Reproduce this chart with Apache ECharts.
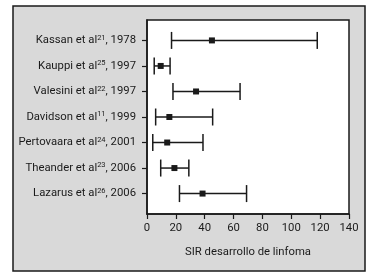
<!DOCTYPE html>
<html lang="es" style="height: 100%">
<head>
  <meta charset="utf-8">
</head>
<body style="height: 100%; margin: 0; background: #fff">
  <div id="container" style="width: 386px; height: 278px"></div>

  <script type="text/javascript" src="https://cdn.jsdelivr.net/npm/echarts@6/dist/echarts.min.js"></script>
  <script type="text/javascript">
var authors = ['Kassan et al', 'Kauppi et al', 'Valesini et al', 'Davidson et al', 'Pertovaara et al', 'Theander et al', 'Lazarus et al'];
var refs = ['21', '25', '22', '11', '24', '23', '26'];
var years = ['1978', '1997', '1997', '1999', '2001', '2006', '2006'];
// SIR estimate and confidence interval
var sirEst = [45, 9.5, 34, 15.5, 14, 19, 38.5];
var ciLow = [17, 5, 18, 6, 4, 9.5, 22.5];
var ciHigh = [118, 16, 64.5, 45.5, 38.8, 29, 69];
var xAxisName = 'SIR desarrollo de linfoma';

var rows = [];
for (var i = 0; i < authors.length; i++) {
  rows.push([i, ciLow[i], sirEst[i], ciHigh[i]]);
}
var rowIdx = authors.map(function (a, i) { return i; });

var dom = document.getElementById('container');
var myChart = echarts.init(dom, null, { renderer: 'canvas' });

var ink = '#1a1a1a';
var font = 'Roboto';
var fs = 11.3;

function renderBar(params, api) {
  var y = api.value(0);
  var lo = api.coord([api.value(1), y]);
  var mid = api.coord([api.value(2), y]);
  var hi = api.coord([api.value(3), y]);
  var cap = 8.5;
  var st = { stroke: ink, lineWidth: 1.5 };
  return {
    type: 'group',
    children: [
      { type: 'line', shape: { x1: lo[0], y1: lo[1], x2: hi[0], y2: hi[1] }, style: st },
      { type: 'line', shape: { x1: lo[0], y1: lo[1] - cap, x2: lo[0], y2: lo[1] + cap }, style: st },
      { type: 'line', shape: { x1: hi[0], y1: hi[1] - cap, x2: hi[0], y2: hi[1] + cap }, style: st },
      { type: 'rect', shape: { x: mid[0] - 3, y: mid[1] - 3, width: 6, height: 6 }, style: { fill: ink } }
    ]
  };
}

var option = {
  animation: false,
  textStyle: { fontFamily: font },
  graphic: [
    {
      type: 'rect',
      z: -10,
      shape: { x: 13, y: 6, width: 352, height: 265 },
      style: { fill: '#d9d9d9', stroke: ink, lineWidth: 1.5 }
    }
  ],
  grid: {
    left: 147, top: 20, width: 202, height: 194,
    show: true,
    backgroundColor: '#fff',
    borderColor: ink,
    borderWidth: 1.5
  },
  xAxis: {
    type: 'value',
    min: 0, max: 140, interval: 20,
    name: xAxisName,
    nameLocation: 'middle',
    nameGap: 33,
    nameTextStyle: { color: ink, fontSize: fs, fontFamily: font },
    axisLine: { show: true, onZero: false, lineStyle: { color: ink, width: 1.5 } },
    axisTick: { show: true, length: 5, lineStyle: { color: ink, width: 1.2 } },
    axisLabel: { color: ink, fontSize: fs, margin: 9, fontFamily: font },
    splitLine: { show: false }
  },
  yAxis: {
    type: 'value',
    min: -0.8, max: 6.8,
    inverse: true,
    axisLine: { show: true, onZero: false, lineStyle: { color: ink, width: 1.5 } },
    axisTick: { show: true, length: 5, customValues: rowIdx, lineStyle: { color: ink, width: 1.2 } },
    axisLabel: {
      customValues: rowIdx,
      margin: 11,
      formatter: function (v) {
        var i = Math.round(v);
        return '{n|' + authors[i] + '}{s|' + refs[i] + '}{n|, ' + years[i] + '}';
      },
      rich: {
        n: { color: ink, fontSize: fs, fontFamily: font },
        s: { color: ink, fontSize: 7.5, fontFamily: font, verticalAlign: 'top', padding: [0, 0, 5, 0] }
      }
    },
    splitLine: { show: false }
  },
  series: [
    {
      type: 'custom',
      renderItem: renderBar,
      encode: { x: [1, 2, 3], y: 0 },
      data: rows
    }
  ]
};

myChart.setOption(option);
  </script>
</body>
</html>
